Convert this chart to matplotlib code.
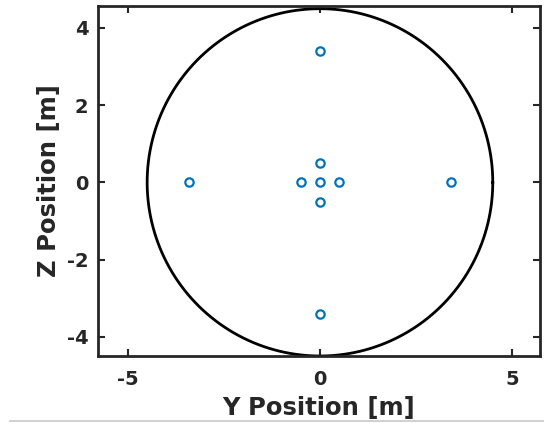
import numpy as np
import matplotlib
matplotlib.use('Agg')
import matplotlib.pyplot as plt
from matplotlib.lines import Line2D

# source positions (Y, Z) in metres
y_pos = [0, 0, 3.4, -3.4, 0, 0.5, -0.5, 0, 0]
z_pos = [3.4, -3.4, 0, 0, 0, 0, 0, 0.5, -0.5]
radius = 4.5

xticks = [-5, 0, 5]
yticks = [-4, -2, 0, 2, 4]

plt.rcParams['font.family'] = 'DejaVu Sans'
plt.rcParams['font.weight'] = 'bold'
plt.rcParams['axes.unicode_minus'] = False

fig = plt.figure(figsize=(5.44, 4.23), dpi=100)
ax = fig.add_axes([98/544, 1-356/423, 442/544, 350/423])

th = np.linspace(0, 2*np.pi, 400)
ax.plot(radius*np.cos(th), radius*np.sin(th), color='black', lw=2)
ax.plot(y_pos, z_pos, 'o', mfc='none', mec='#0072BD', ms=6, mew=1.6)

ax.set_xlim(-5.78, 5.73)
ax.set_ylim(-4.5, 4.57)
ax.set_xticks(xticks)
ax.set_yticks(yticks)
ax.tick_params(direction='in', length=5, width=1.5, top=True, right=True,
               labelsize=14, colors='#262626', pad=7)
ax.tick_params(axis='x', pad=10)
for s in ax.spines.values():
    s.set_linewidth(2)
    s.set_color('#262626')
ax.set_xlabel('Y Position [m]', fontsize=17.5, fontweight='bold', color='#262626', labelpad=5)
ax.set_ylabel('Z Position [m]', fontsize=17.5, fontweight='bold', color='#262626', labelpad=4)

fig.add_artist(Line2D([10/544, 1], [2/423, 2/423], color='#c8c8c8', lw=1.2))

fig.savefig('out.png', dpi=100)
